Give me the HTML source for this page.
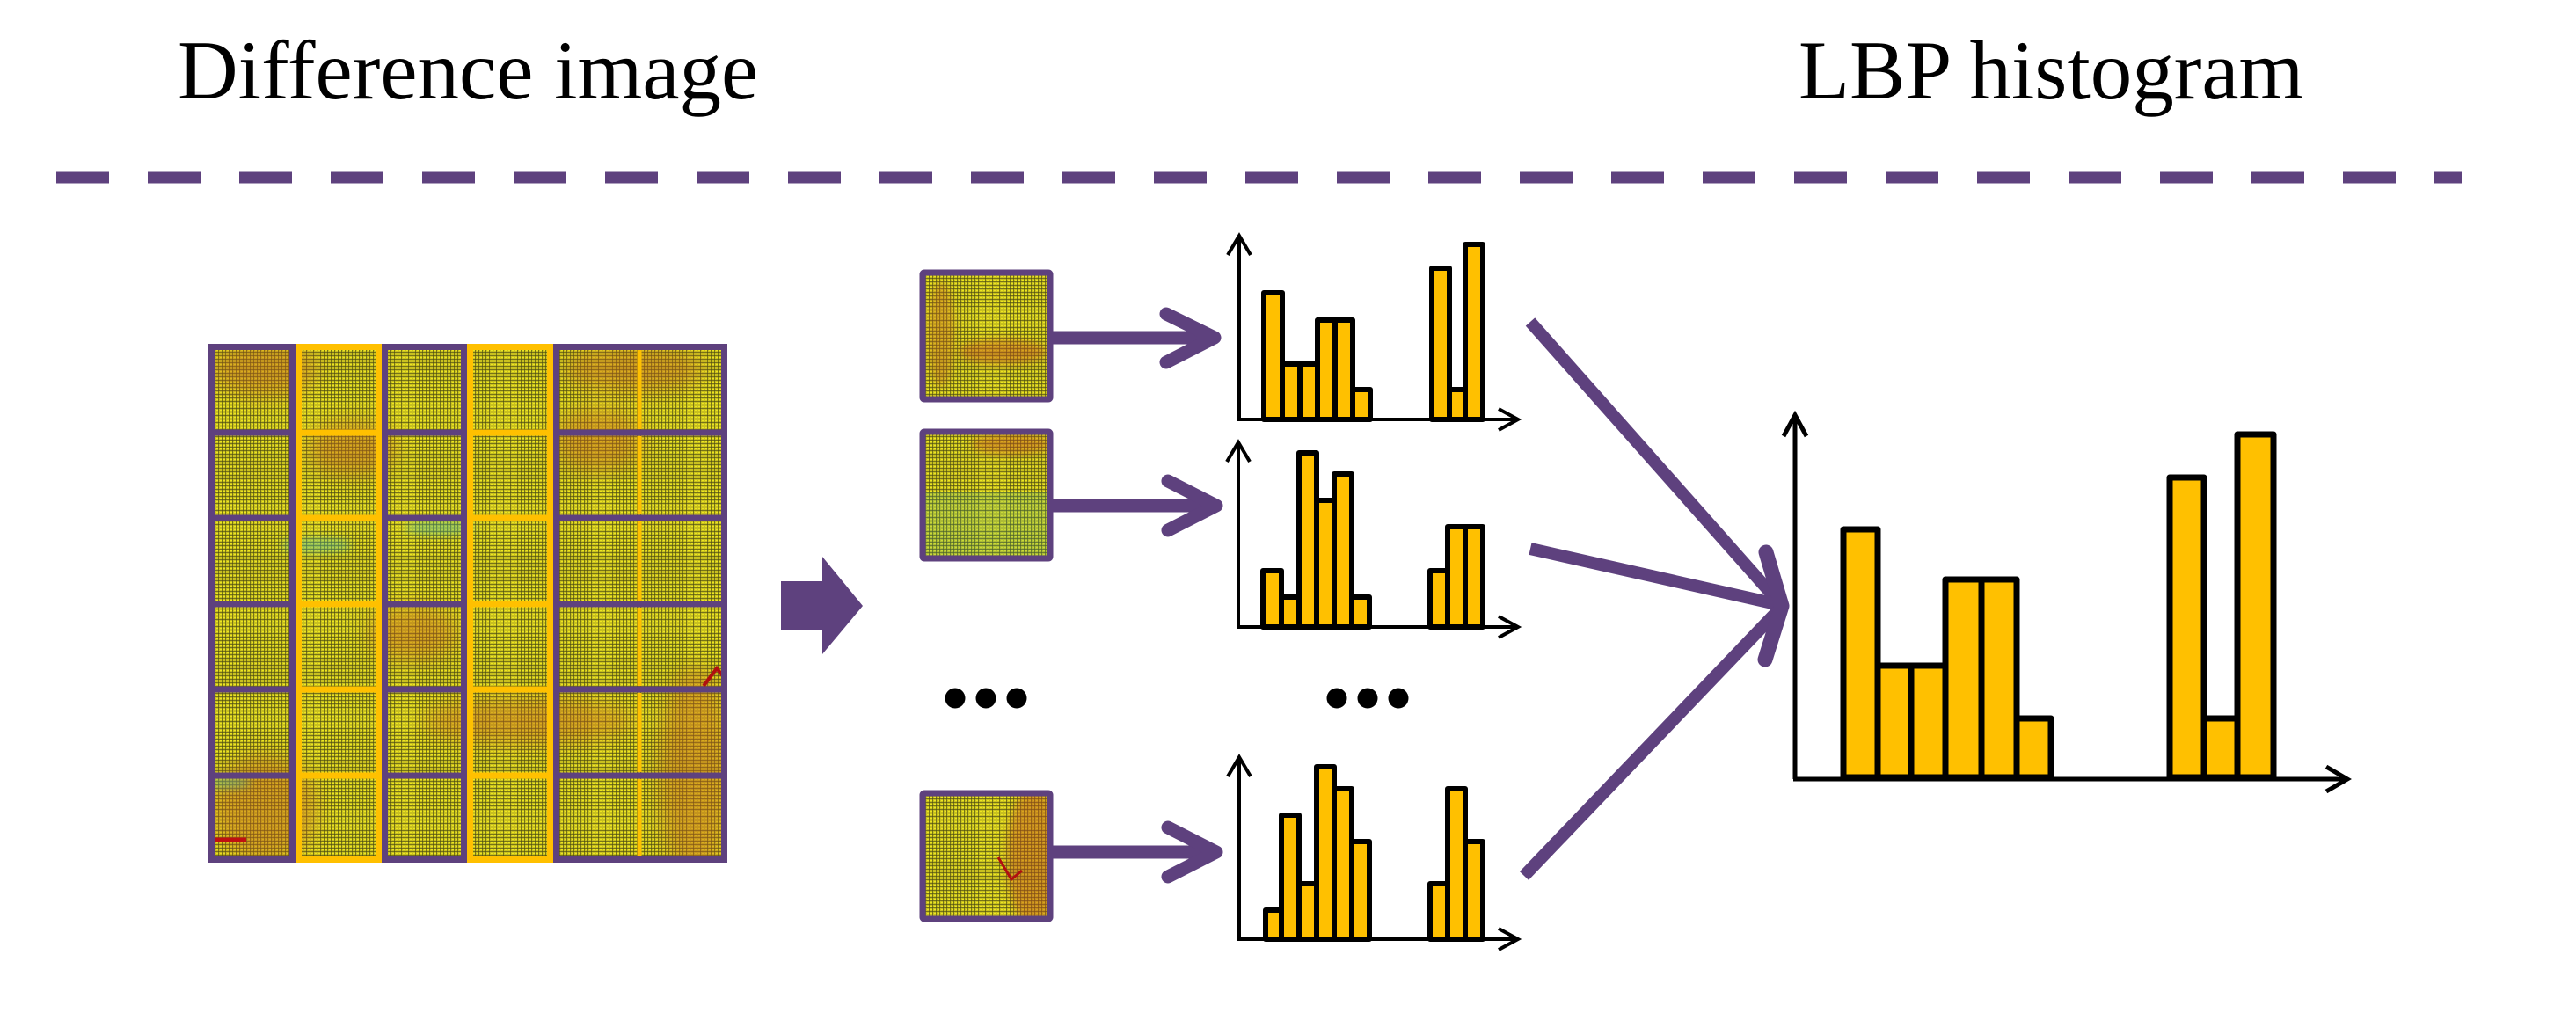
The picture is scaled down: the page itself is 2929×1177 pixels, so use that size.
<!DOCTYPE html>
<html><head><meta charset="utf-8"><style>
html,body{margin:0;padding:0;background:#fff}
svg{display:block}
</style></head><body>
<svg width="2929" height="1177" viewBox="0 0 2929 1177" xmlns="http://www.w3.org/2000/svg">
<defs>
<pattern id="tex" width="4" height="4" patternUnits="userSpaceOnUse">
<rect width="4" height="4" fill="#c8c020"/>
<rect x="0" y="0" width="4" height="1" fill="#4a4a12" opacity="0.65"/>
<rect x="0" y="0" width="1" height="4" fill="#4a4a12" opacity="0.65"/>
<rect x="2" y="2" width="2" height="1" fill="#f6f020" opacity="0.8"/>
</pattern>
<filter id="bl" x="-50%" y="-50%" width="200%" height="200%"><feGaussianBlur stdDeviation="12"/></filter>
<filter id="bl2" x="-50%" y="-50%" width="200%" height="200%"><feGaussianBlur stdDeviation="5"/></filter>
<clipPath id="gclip"><rect x="237" y="391" width="590" height="590"/></clipPath>
<clipPath id="t1"><rect x="1049" y="310" width="145" height="144"/></clipPath>
<clipPath id="t2"><rect x="1049" y="491" width="145" height="144"/></clipPath>
<clipPath id="t3"><rect x="1049" y="902" width="145" height="143"/></clipPath>
</defs>

<text x="202" y="112" font-family="Liberation Serif, serif" font-size="95" fill="#000">Difference image</text>
<text x="2045" y="112" font-family="Liberation Serif, serif" font-size="95" fill="#000">LBP histogram</text>

<line x1="64" y1="202" x2="2799" y2="202" stroke="#5e417e" stroke-width="13" stroke-dasharray="60 44"/>

<rect x="237" y="391" width="590" height="590" fill="url(#tex)"/>
<g clip-path="url(#gclip)">
<g filter="url(#bl)" fill="#c0601a" opacity="0.45">
<ellipse cx="300" cy="420" rx="60" ry="30"/>
<ellipse cx="400" cy="510" rx="50" ry="30"/>
<ellipse cx="680" cy="500" rx="50" ry="35"/>
<ellipse cx="470" cy="720" rx="50" ry="30"/>
<ellipse cx="600" cy="820" rx="120" ry="25"/>
<ellipse cx="790" cy="880" rx="40" ry="120"/>
<ellipse cx="300" cy="920" rx="60" ry="60"/>
<ellipse cx="720" cy="420" rx="80" ry="25"/>
</g>
<g filter="url(#bl2)" fill="#48b8a0" opacity="0.45">
<ellipse cx="360" cy="620" rx="40" ry="8"/>
<ellipse cx="500" cy="600" rx="40" ry="8"/>
<ellipse cx="260" cy="890" rx="25" ry="6"/>
</g>
<path d="M800 780 L815 760 L827 775" stroke="#b01010" stroke-width="4" fill="none"/>
<path d="M240 955 H280" stroke="#c01010" stroke-width="5"/>
</g>
<g fill="none" stroke-width="7">
<g stroke="#5e417e">
<rect x="240.5" y="394.5" width="92" height="583"/>
<rect x="437.5" y="394.5" width="90" height="583"/>
<rect x="632.5" y="394.5" width="191" height="583"/>
<path d="M240 492H333M240 589H333M240 687H333M240 784H333M240 882H333"/>
<path d="M437 492H528M437 589H528M437 687H528M437 784H528M437 882H528"/>
<path d="M632 492H824M632 589H824M632 687H824M632 784H824M632 882H824"/>
</g>
<g stroke="#ffc000">
<rect x="339.5" y="394.5" width="91" height="583"/>
<rect x="534.5" y="394.5" width="91" height="583"/>
<path d="M339 492H431M339 589H431M339 687H431M339 784H431M339 882H431"/>
<path d="M534 492H626M534 589H626M534 687H626M534 784H626M534 882H626"/>
</g>
<path d="M727 398V488M727 496V585M727 593V683M727 691V780M727 788V878M727 886V974" stroke="#ffc000" stroke-width="5"/>
</g>

<polygon points="888,661 935,661 935,633 981,689 935,744 935,716 888,716" fill="#5e417e"/>

<g>
<rect x="1049" y="310" width="145" height="144" fill="url(#tex)"/>
<g clip-path="url(#t1)">
<ellipse cx="1140" cy="400" rx="50" ry="14" fill="#c0501a" opacity="0.45" filter="url(#bl2)"/>
<ellipse cx="1070" cy="380" rx="15" ry="60" fill="#c0601a" opacity="0.4" filter="url(#bl2)"/>
</g>
<rect x="1049" y="310" width="145" height="144" fill="none" stroke="#5e417e" stroke-width="7" rx="2"/>

<rect x="1049" y="491" width="145" height="144" fill="url(#tex)"/>
<g clip-path="url(#t2)">
<rect x="1049" y="560" width="145" height="75" fill="#40b090" opacity="0.2"/>
<ellipse cx="1150" cy="505" rx="45" ry="12" fill="#c0501a" opacity="0.45" filter="url(#bl2)"/>
</g>
<rect x="1049" y="491" width="145" height="144" fill="none" stroke="#5e417e" stroke-width="7" rx="2"/>

<rect x="1049" y="902" width="145" height="143" fill="url(#tex)"/>
<g clip-path="url(#t3)">
<ellipse cx="1175" cy="975" rx="30" ry="80" fill="#c0501a" opacity="0.45" filter="url(#bl2)"/>
<path d="M1135 975 L1150 1000 L1162 990" stroke="#b01010" stroke-width="3" fill="none"/>
</g>
<rect x="1049" y="902" width="145" height="143" fill="none" stroke="#5e417e" stroke-width="7" rx="2"/>
</g>

<g stroke="#5e417e" fill="none" stroke-linecap="round" stroke-linejoin="round">
<line x1="1196" y1="384" x2="1378" y2="384" stroke-width="15" stroke-linecap="butt"/>
<polyline points="1326,357 1381,384 1326,412" stroke-width="15"/>
<line x1="1196" y1="575" x2="1380" y2="575" stroke-width="15" stroke-linecap="butt"/>
<polyline points="1328,547 1383,575 1328,603" stroke-width="15"/>
<line x1="1196" y1="969" x2="1380" y2="969" stroke-width="15" stroke-linecap="butt"/>
<polyline points="1328,941 1383,969 1328,997" stroke-width="15"/>
</g>

<g fill="#000">
<circle cx="1086" cy="794" r="11.5"/><circle cx="1121" cy="794" r="11.5"/><circle cx="1156" cy="794" r="11.5"/>
<circle cx="1520" cy="794" r="11.5"/><circle cx="1555" cy="794" r="11.5"/><circle cx="1590" cy="794" r="11.5"/>
</g>

<g stroke="#000" fill="none" stroke-width="4">
<path d="M1409 477V268M1396 290L1409 268L1422 290"/>
<path d="M1407 477H1726M1704 465L1726 477L1704 489"/>
<path d="M1408 713V503M1395 525L1408 503L1421 525"/>
<path d="M1406 713H1726M1704 701L1726 713L1704 725"/>
<path d="M1409 1068V861M1396 883L1409 861L1422 883"/>
<path d="M1407 1068H1726M1704 1056L1726 1068L1704 1080"/>
</g>
<g fill="#ffc000" stroke="#000" stroke-width="6" stroke-linejoin="round">
<rect x="1437" y="333" width="21" height="144"/>
<rect x="1458" y="414" width="20" height="63"/>
<rect x="1478" y="414" width="20" height="63"/>
<rect x="1498" y="364" width="20" height="113"/>
<rect x="1518" y="364" width="20" height="113"/>
<rect x="1538" y="443" width="20" height="34"/>
<rect x="1628" y="305" width="20" height="172"/>
<rect x="1648" y="443" width="18" height="34"/>
<rect x="1666" y="278" width="20" height="199"/>
<rect x="1436" y="649" width="21" height="64"/>
<rect x="1457" y="679" width="20" height="34"/>
<rect x="1477" y="515" width="20" height="198"/>
<rect x="1497" y="569" width="20" height="144"/>
<rect x="1517" y="539" width="20" height="174"/>
<rect x="1537" y="679" width="20" height="34"/>
<rect x="1626" y="649" width="20" height="64"/>
<rect x="1646" y="599" width="20" height="114"/>
<rect x="1666" y="599" width="20" height="114"/>
<rect x="1439" y="1035" width="18" height="33"/>
<rect x="1457" y="927" width="20" height="141"/>
<rect x="1477" y="1005" width="20" height="63"/>
<rect x="1497" y="872" width="20" height="196"/>
<rect x="1517" y="897" width="20" height="171"/>
<rect x="1537" y="957" width="20" height="111"/>
<rect x="1626" y="1005" width="20" height="63"/>
<rect x="1646" y="897" width="20" height="171"/>
<rect x="1666" y="957" width="20" height="111"/>
</g>

<g stroke="#5e417e" fill="none" stroke-width="14">
<line x1="1740" y1="366" x2="2022" y2="684"/>
<line x1="1740" y1="624" x2="2020" y2="687"/>
<line x1="1733" y1="996" x2="2022" y2="694"/>
<polyline points="2008,628 2026,689 2007,750" stroke-width="17" stroke-linecap="round" stroke-linejoin="round"/>
</g>

<g stroke="#000" fill="none" stroke-width="5">
<path d="M2041 886V472M2028 496L2041 472L2054 496"/>
<path d="M2039 886H2669M2645 872L2669 886L2645 900"/>
</g>
<g fill="#ffc000" stroke="#000" stroke-width="7" stroke-linejoin="round">
<rect x="2096" y="602" width="39" height="282"/>
<rect x="2135" y="757" width="38" height="127"/>
<rect x="2173" y="757" width="39" height="127"/>
<rect x="2212" y="659" width="41" height="225"/>
<rect x="2253" y="659" width="40" height="225"/>
<rect x="2293" y="817" width="39" height="67"/>
<rect x="2467" y="543" width="39" height="341"/>
<rect x="2506" y="817" width="38" height="67"/>
<rect x="2544" y="494" width="41" height="390"/>
</g>
</svg>
</body></html>
